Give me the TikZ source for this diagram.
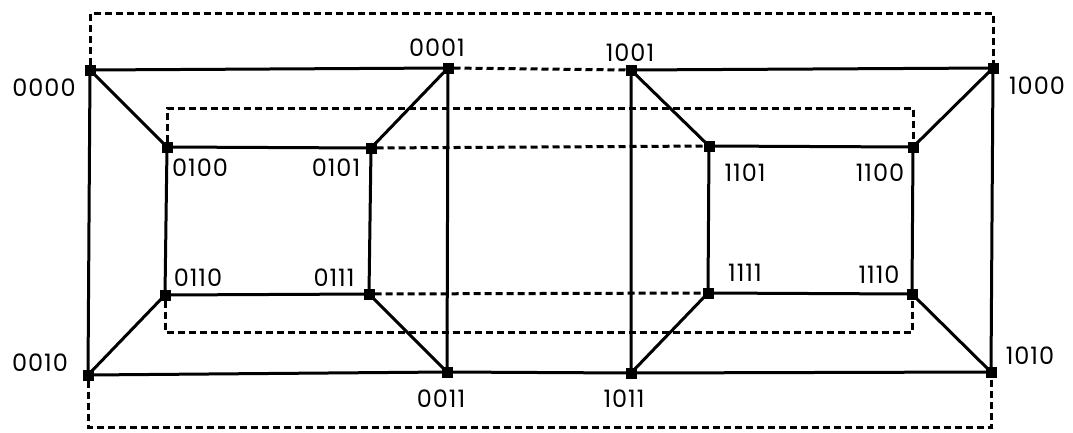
\documentclass[tikz,border=0pt]{standalone}
\usepackage{fontspec}
\setmainfont{Poppins}[Numbers=Monospaced,LetterSpace=4]
\begin{document}
\begin{tikzpicture}[x=1pt,y=-1pt,
  vtx/.style={fill=black,minimum size=11pt,inner sep=0pt,outer sep=0pt,rectangle},
  lbl/.style={font=\fontsize{24}{24}\selectfont,inner sep=0pt},
  edge/.style={line width=3pt},
  link/.style={line width=3pt,dash pattern=on 7pt off 4pt}]
\useasboundingbox (0,0) rectangle (1073,432);
% vertices of the 4-cube
\node[vtx] (v0000) at (90,70) {};
\node[vtx] (v0001) at (448,68) {};
\node[vtx] (v1001) at (631,70) {};
\node[vtx] (v1000) at (993,68) {};
\node[vtx] (v0100) at (167,147) {};
\node[vtx] (v0101) at (371,148) {};
\node[vtx] (v1101) at (709,146) {};
\node[vtx] (v1100) at (913,147) {};
\node[vtx] (v0110) at (165,295) {};
\node[vtx] (v0111) at (369,294) {};
\node[vtx] (v1111) at (708,293) {};
\node[vtx] (v1110) at (912,294) {};
\node[vtx] (v0010) at (88,375) {};
\node[vtx] (v0011) at (447,372) {};
\node[vtx] (v1011) at (631,373) {};
\node[vtx] (v1010) at (991,372) {};
% labels
\node[lbl] (l0000) at (44,88) {0000};
\node[lbl] (l0001) at (437,48) {0001};
\node[lbl] (l1001) at (630,53) {1001};
\node[lbl] (l1000) at (1037,86) {1000};
\node[lbl] (l0100) at (200,168) {0100};
\node[lbl] (l0101) at (336,168) {0101};
\node[lbl] (l1101) at (745,173) {1101};
\node[lbl] (l1100) at (880,173) {1100};
\node[lbl] (l0110) at (198,278) {0110};
\node[lbl] (l0111) at (334,278) {0111};
\node[lbl] (l1111) at (745,273) {1111};
\node[lbl] (l1110) at (879,275) {1110};
\node[lbl] (l0010) at (40,363) {0010};
\node[lbl] (l0011) at (441,399) {0011};
\node[lbl] (l1011) at (624,399) {1011};
\node[lbl] (l1010) at (1030,356) {1010};
% routing corners of the long links
\coordinate (a1) at (90,13);  \coordinate (a2) at (993,13);
\coordinate (b1) at (167,108); \coordinate (b2) at (913,108);
\coordinate (c1) at (165,332); \coordinate (c2) at (912,332);
\coordinate (d1) at (88,427);  \coordinate (d2) at (991,427);
% left cube
\draw[edge] (v0000.center) -- (v0001.center) -- (v0011.center) -- (v0010.center) -- cycle;
\draw[edge] (v0100.center) -- (v0101.center) -- (v0111.center) -- (v0110.center) -- cycle;
\draw[edge] (v0000.center) -- (v0100.center);
\draw[edge] (v0001.center) -- (v0101.center);
\draw[edge] (v0011.center) -- (v0111.center);
\draw[edge] (v0010.center) -- (v0110.center);
% right cube
\draw[edge] (v1001.center) -- (v1000.center) -- (v1010.center) -- (v1011.center) -- cycle;
\draw[edge] (v1101.center) -- (v1100.center) -- (v1110.center) -- (v1111.center) -- cycle;
\draw[edge] (v1001.center) -- (v1101.center);
\draw[edge] (v1000.center) -- (v1100.center);
\draw[edge] (v1010.center) -- (v1110.center);
\draw[edge] (v1011.center) -- (v1111.center);
% links between the cubes
\draw[edge] (v0011.center) -- (v1011.center);
\draw[link] (v0001) -- (v1001);
\draw[link] (v0101) -- (v1101);
\draw[link] (v0111) -- (v1111);
\draw[link] (v0000.north) -- (a1) -- (a2) -- (v1000.north);
\draw[link] (v0100.north) -- (b1) -- (b2) -- (v1100.north);
\draw[link] (v0110.south) -- (c1) -- (c2) -- (v1110.south);
\draw[link] (v0010.south) -- (d1) -- (d2) -- (v1010.south);
% vertex markers on top
\foreach \v in {0000,0001,1001,1000,0100,0101,1101,1100,0110,0111,1111,1110,0010,0011,1011,1010}
  \fill (v\v.south west) rectangle (v\v.north east);
\end{tikzpicture}
\end{document}
